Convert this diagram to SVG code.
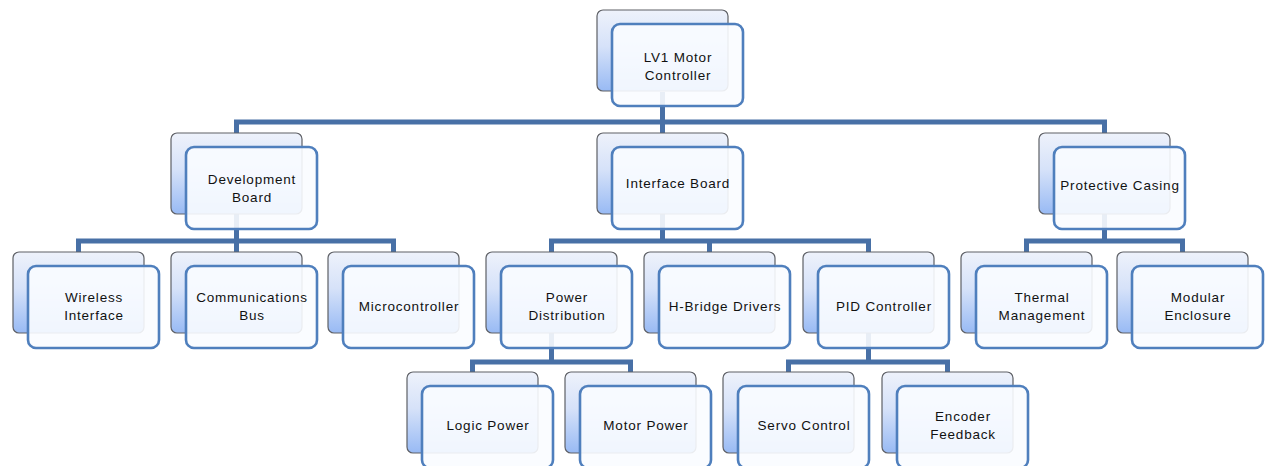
<svg xmlns="http://www.w3.org/2000/svg" width="1266" height="466" viewBox="0 0 1266 466">
<defs>
<linearGradient id="bg" x1="0" y1="0" x2="0" y2="1">
<stop offset="0" stop-color="#eef2fb"/>
<stop offset="0.45" stop-color="#d6e2f9"/>
<stop offset="1" stop-color="#98baf4"/>
</linearGradient>
<g id="n">
<rect class="b" x="0" y="0" width="131" height="81" rx="6"/>
<rect class="f" x="15" y="14" width="131" height="82" rx="8"/>
</g>
</defs>
<style>
.b{fill:url(#bg);stroke:#5e6066;stroke-width:1.2}
.f{fill:#fafcff;fill-opacity:0.9;stroke:#4f7fbd;stroke-width:2.6}
.c{fill:none;stroke:#4870a6;stroke-width:5}
text{font-family:"Liberation Sans",Arial,sans-serif;font-size:13.5px;letter-spacing:0.8px;fill:#111;text-anchor:middle}
</style>
<rect width="1266" height="466" fill="#ffffff"/>
<g id="connectors" class="c">
<path class="c" d="M662.5 92V122M236.5 133V122H1104.5V133M662.5 122V133"/>
<path class="c" d="M236.5 214V241M78.5 252V241H393.5V252M236.5 241V252"/>
<path class="c" d="M662.5 214V241M551.5 252V241H868.5V252M709.5 241V252"/>
<path class="c" d="M1104.5 214V241M1026.5 252V241H1182.5V252"/>
<path class="c" d="M551.5 333V362M472.5 372V362H630.5V372"/>
<path class="c" d="M868.5 333V362M788.5 372V362H947.5V372"/>
</g>
<g id="lv1"><use href="#n" x="597" y="10"/><text x="678" y="62">LV1 Motor</text><text x="678" y="80">Controller</text></g>
<g id="dev"><use href="#n" x="171" y="133"/><text x="252" y="184">Development</text><text x="252" y="202">Board</text></g>
<g id="iface"><use href="#n" x="597" y="133"/><text x="678" y="188">Interface Board</text></g>
<g id="casing"><use href="#n" x="1039" y="133"/><text x="1120" y="190">Protective Casing</text></g>
<g id="wireless"><use href="#n" x="13" y="252"/><text x="94" y="302">Wireless</text><text x="94" y="320">Interface</text></g>
<g id="bus"><use href="#n" x="171" y="252"/><text x="252" y="302">Communications</text><text x="252" y="320">Bus</text></g>
<g id="mcu"><use href="#n" x="328" y="252"/><text x="409" y="311">Microcontroller</text></g>
<g id="power"><use href="#n" x="486" y="252"/><text x="567" y="302">Power</text><text x="567" y="320">Distribution</text></g>
<g id="hbridge"><use href="#n" x="644" y="252"/><text x="725" y="311">H-Bridge Drivers</text></g>
<g id="pid"><use href="#n" x="803" y="252"/><text x="884" y="311">PID Controller</text></g>
<g id="thermal"><use href="#n" x="961" y="252"/><text x="1042" y="302">Thermal</text><text x="1042" y="320">Management</text></g>
<g id="enclosure"><use href="#n" x="1117" y="252"/><text x="1198" y="302">Modular</text><text x="1198" y="320">Enclosure</text></g>
<g id="logic"><use href="#n" x="407" y="372"/><text x="488" y="430">Logic Power</text></g>
<g id="motor"><use href="#n" x="565" y="372"/><text x="646" y="430">Motor Power</text></g>
<g id="servo"><use href="#n" x="723" y="372"/><text x="804" y="430">Servo Control</text></g>
<g id="encoder"><use href="#n" x="882" y="372"/><text x="963" y="421">Encoder</text><text x="963" y="439">Feedback</text></g>
</svg>
